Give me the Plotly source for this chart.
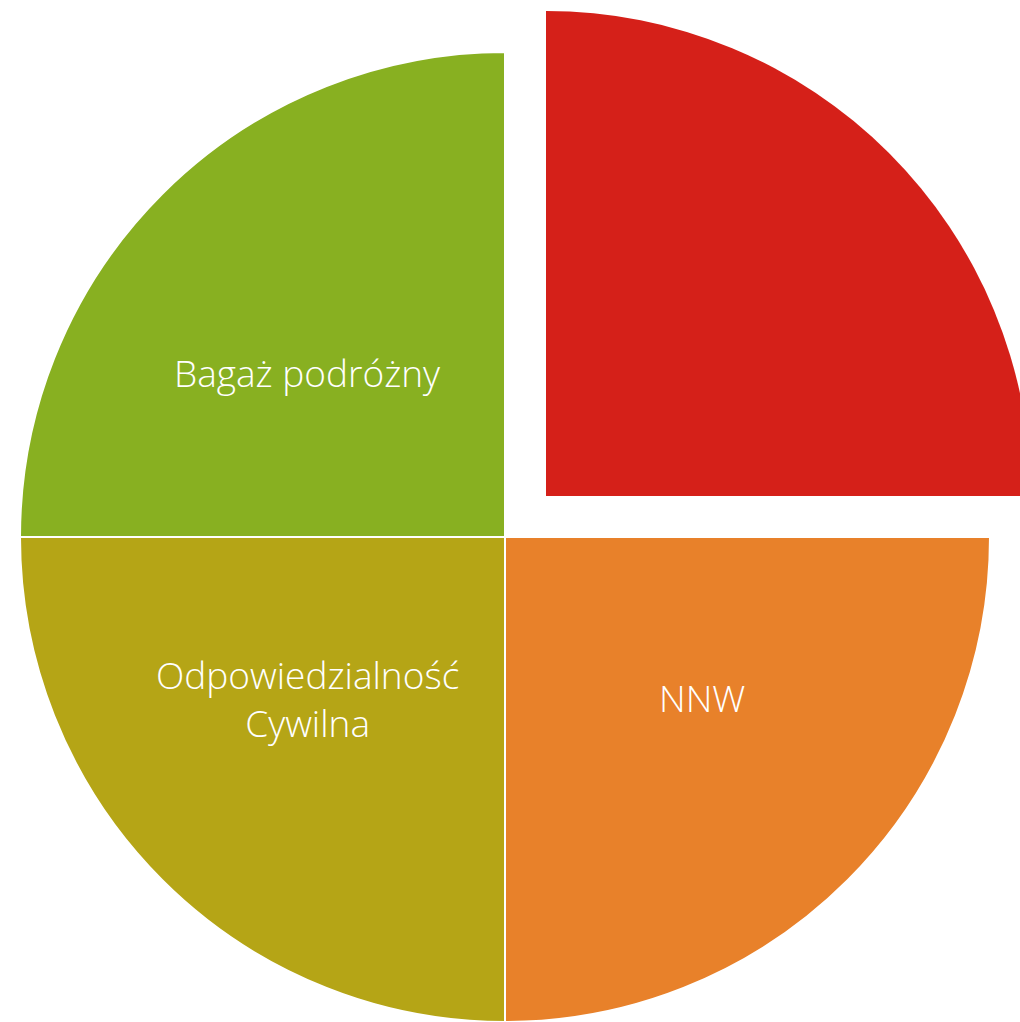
import plotly.graph_objects as go

# Data
categories = ["", "NNW", "Odpowiedzialność Cywilna", "Bagaż podróżny"]
values = [25, 25, 25, 25]
label_texts = ["", "NNW", "Odpowiedzialność<br>Cywilna", "Bagaż podróżny"]
colors = ["#D52019", "#E8812A", "#B5A516", "#88B021"]

# label anchor points in pixels (layout only)
label_px = [None, (702, 697), (307, 698), (307, 372)]

W, H = 1032, 1022

fig = go.Figure()

# Main pie: three slices, red one left transparent (drawn separately, pulled out)
fig.add_trace(go.Pie(
    labels=categories,
    values=values,
    sort=False,
    direction="clockwise",
    rotation=0,
    textinfo="none",
    marker=dict(
        colors=["rgba(0,0,0,0)"] + colors[1:],
        line=dict(color="white", width=[0, 2, 2, 2]),
    ),
    hoverinfo="skip",
    showlegend=False,
    domain=dict(x=[20 / W, 990 / W], y=[0, 970 / H]),
))

# Exploded red slice
fig.add_trace(go.Pie(
    labels=categories,
    values=values,
    sort=False,
    direction="clockwise",
    rotation=0,
    textinfo="none",
    marker=dict(
        colors=[colors[0]] + ["rgba(0,0,0,0)"] * 3,
        line=dict(color="white", width=0),
    ),
    hoverinfo="skip",
    showlegend=False,
    domain=dict(x=[61 / W, 1031 / W], y=[41 / H, 1011 / H]),
))

annotations = []
for txt, pos in zip(label_texts, label_px):
    if not txt or pos is None:
        continue
    annotations.append(dict(
        text=txt,
        x=pos[0] / W,
        y=1 - pos[1] / H,
        xref="paper",
        yref="paper",
        xanchor="center",
        yanchor="middle",
        showarrow=False,
        align="center",
        font=dict(family="Open Sans", size=37, color="white", weight=300),
    ))

fig.update_layout(
    width=W,
    height=H,
    margin=dict(l=0, r=0, t=0, b=0),
    paper_bgcolor="white",
    plot_bgcolor="white",
    showlegend=False,
    annotations=annotations,
)

fig.write_html(
    "out.html",
    config={"displayModeBar": False},
    post_script=(
        "document.documentElement.style.overflow='hidden';"
        "document.body.style.overflow='hidden';"
        "document.body.style.margin='0';"
    ),
)
